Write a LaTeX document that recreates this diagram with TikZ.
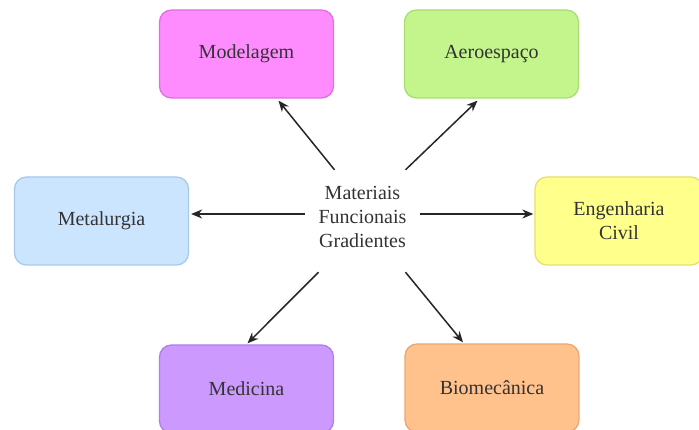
\documentclass[tikz,border=0pt]{standalone}
\usepackage{fontspec}
\setmainfont{Liberation Serif}
\usetikzlibrary{arrows.meta}
\definecolor{modf}{HTML}{FF8CFF}\definecolor{modd}{HTML}{E070E0}
\definecolor{aerf}{HTML}{C4F58C}\definecolor{aerd}{HTML}{A8DE72}
\definecolor{metf}{HTML}{CCE5FF}\definecolor{metd}{HTML}{A8C8EE}
\definecolor{engf}{HTML}{FFFF8C}\definecolor{engd}{HTML}{E6E070}
\definecolor{medf}{HTML}{CC99FF}\definecolor{medd}{HTML}{B07FE6}
\definecolor{biof}{HTML}{FFC28C}\definecolor{biod}{HTML}{EDA872}
\definecolor{txt}{HTML}{333333}
\tikzset{
  box/.style={draw, line width=1.3pt, rounded corners=12pt, minimum height=88pt,
    minimum width=174pt, align=center, font=\fontsize{20}{24}\selectfont, text=txt},
  arr/.style={-{Stealth[length=11pt,width=9pt]}, line width=1.5pt, draw=black!85}
}
\begin{document}
\begin{tikzpicture}[x=1pt,y=-1pt]
\useasboundingbox (0,0) rectangle (699,430);
\fill[white] (0,0) rectangle (699,430);
\node[box, fill=modf, draw=modd] (mod) at (246.5,54) {Modelagem};
\node[box, fill=aerf, draw=aerd] (aer) at (491.5,54) {Aeroespaço};
\node[box, fill=metf, draw=metd] (met) at (101.5,221) {Metalurgia};
\node[box, fill=engf, draw=engd, minimum width=168pt] (eng) at (619,221) {Engenharia\\Civil};
\node[box, fill=medf, draw=medd] (med) at (246.5,389) {Medicina};
\node[box, fill=biof, draw=biod] (bio) at (492,388) {Biomecânica};
\node[minimum width=115pt, minimum height=104pt, inner sep=0pt, align=center,
  font=\fontsize{20}{24}\selectfont, text=txt] (c) at (362.5,217) {Materiais\\Funcionais\\Gradientes};
\draw[arr] ([xshift=-28pt,yshift=-5pt]c.north) -- ([xshift=32pt,yshift=-2pt]mod.south);
\draw[arr] ([xshift=43pt,yshift=-5pt]c.north) -- ([xshift=-14pt,yshift=-2pt]aer.south);
\draw[arr] ([yshift=3pt]c.west) -- ([xshift=2pt,yshift=7pt]met.east);
\draw[arr] ([yshift=3pt]c.east) -- ([xshift=-1pt,yshift=7pt]eng.west);
\draw[arr] ([xshift=-44pt,yshift=-3pt]c.south) -- ([xshift=1pt,yshift=1pt]med.north);
\draw[arr] ([xshift=43pt,yshift=-3pt]c.south) -- ([xshift=-29pt,yshift=1pt]bio.north);
\end{tikzpicture}
\end{document}
